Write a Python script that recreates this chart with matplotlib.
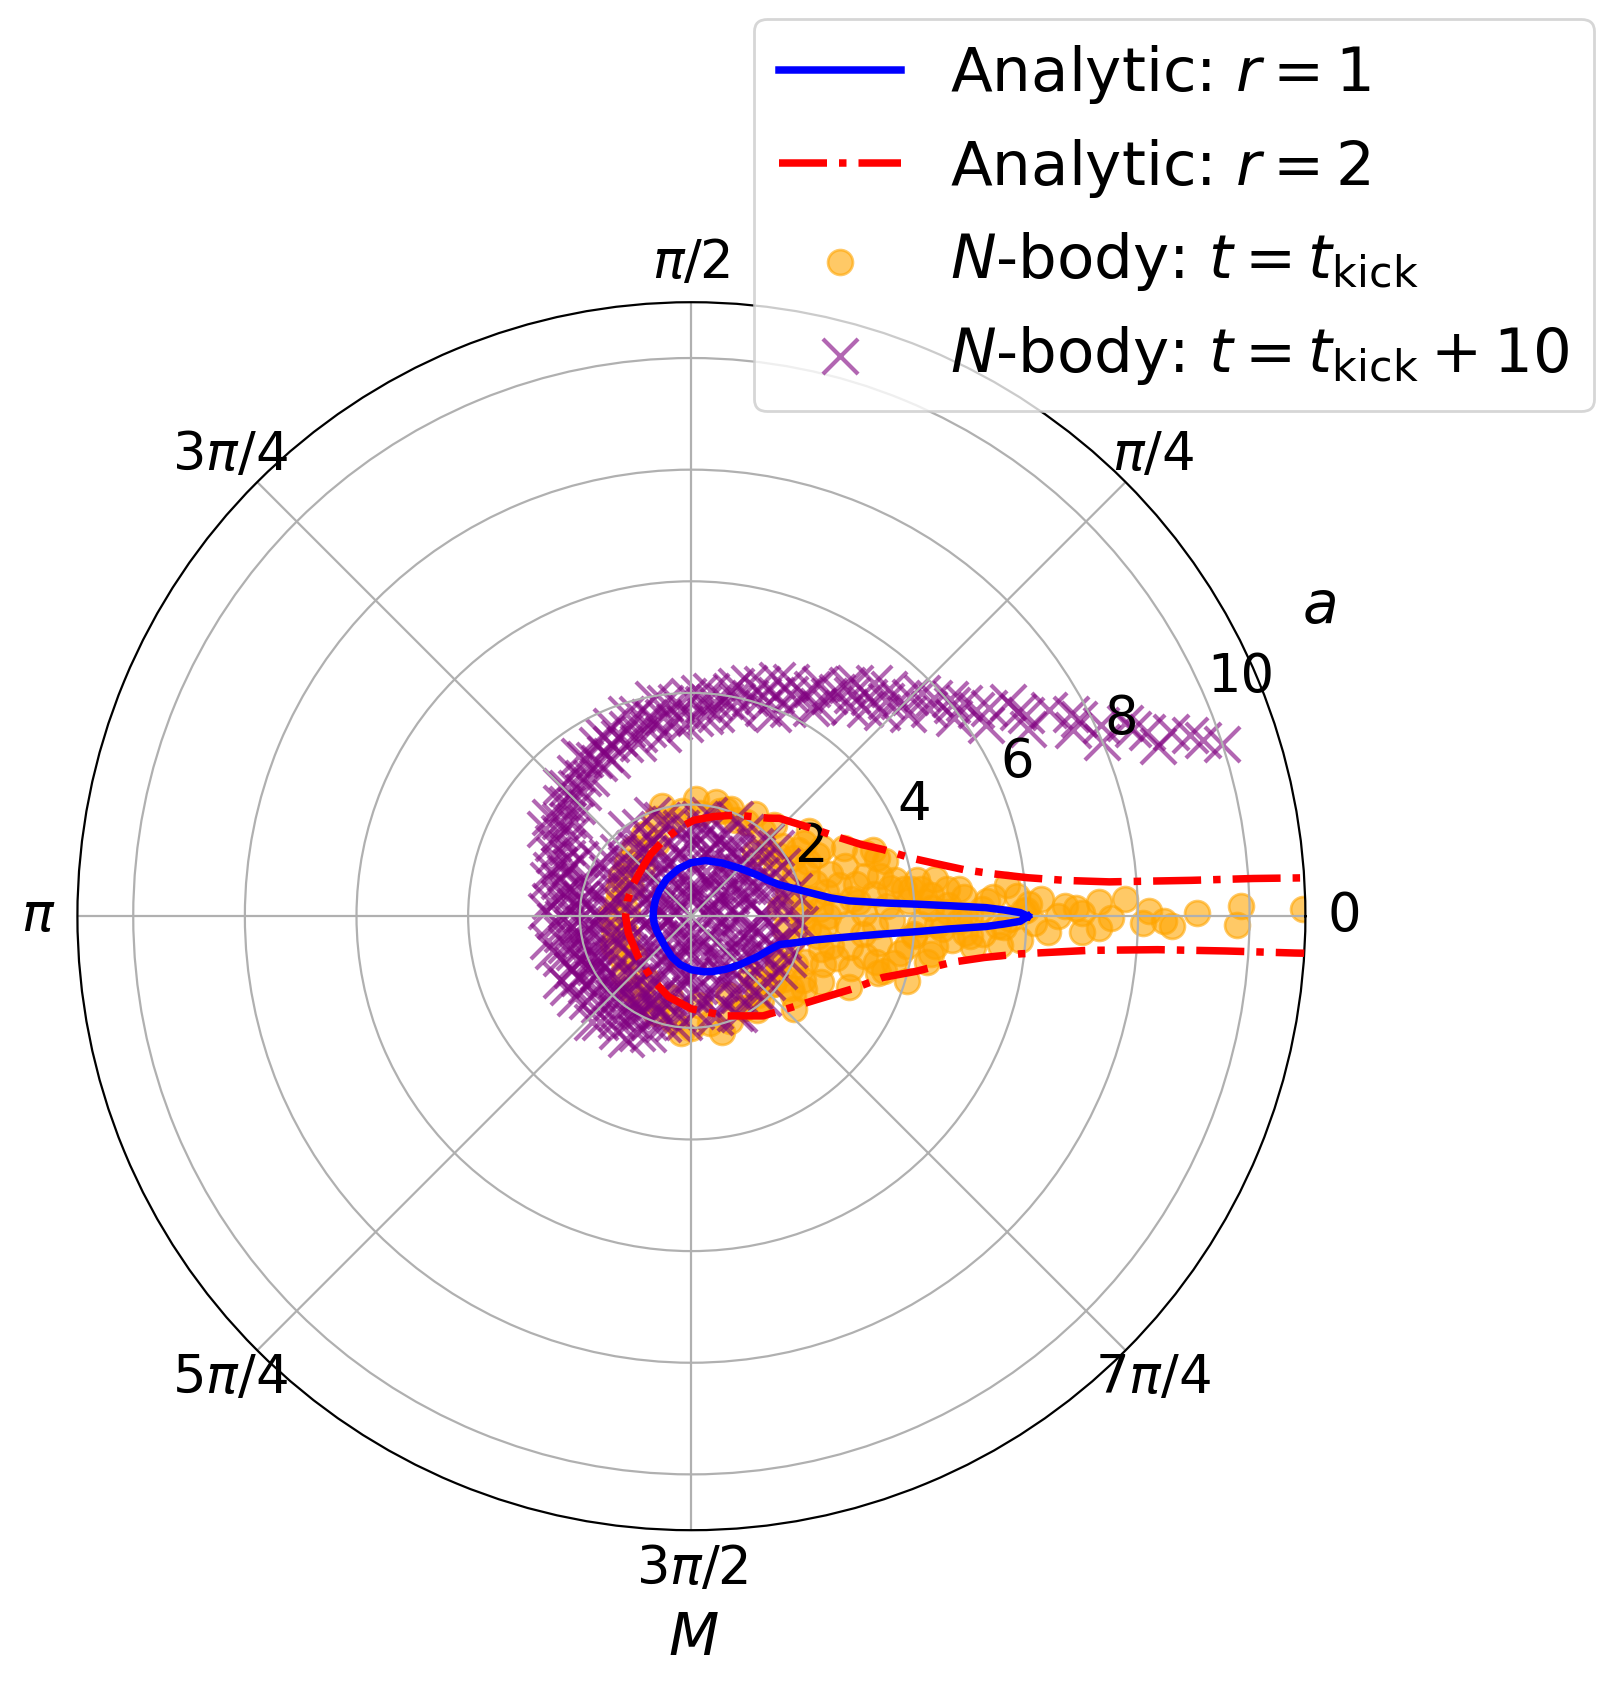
import numpy as np
import matplotlib
matplotlib.use("Agg")
import matplotlib.pyplot as plt

# ---------------- Analytic curves (M in radians, a) ----------------
# r = 1 : closed loop (upper half then lower half)
r1_M = [0.0, 0.011, 0.020, 0.029, 0.040, 0.053, 0.067, 0.097, 0.13, 0.178, 0.25, 0.34,
        0.45, 0.56, 0.78, 1.05, 1.32, 1.571, 1.836, 2.157, 2.45, 2.70, 2.95,
        3.1416, 3.3332, 3.5432, 3.8132, 4.0332, 4.2632, 4.4832, 4.7124, 4.9332, 5.0732,
        5.2832, 5.4832, 5.7232, 5.8832, 5.9732, 6.0332, 6.0932, 6.1532, 6.1882, 6.2152,
        6.2332, 6.2482, 6.2582, 6.2676, 6.2832]
r1_a = [6.03, 5.89, 5.60, 5.28, 4.65, 4.06, 3.51, 2.84, 2.52, 2.25, 1.95, 1.68,
        1.50, 1.39, 1.22, 1.10, 1.03, 0.96, 0.88, 0.80, 0.74, 0.71, 0.69,
        0.685, 0.68, 0.675, 0.685, 0.73, 0.81, 0.89, 0.96, 1.02, 1.06,
        1.13, 1.22, 1.38, 1.53, 1.66, 1.92, 2.25, 2.85, 3.40, 4.06,
        4.60, 5.28, 5.60, 5.89, 6.03]

# r = 2 : open curve (upper branch then lower branch)
r2_M = [0.058, 0.0625, 0.067, 0.0716, 0.082, 0.095, 0.114, 0.14, 0.167, 0.21, 0.259,
        0.334, 0.40, 0.489, 0.636, 0.838, 0.907, 1.156, 1.35, 1.547, 1.70, 1.95, 2.15,
        2.384, 2.65, 2.90,
        3.1416, 3.4032, 3.7932, 4.1332, 4.4362, 4.7124, 5.0452, 5.3362, 5.5402, 5.6972,
        5.8632, 5.9732, 6.0432, 6.1082, 6.1432, 6.1692, 6.1975, 6.2115, 6.2182, 6.2222,
        6.2262]
r2_a = [12.0, 11.0, 10.09, 8.98, 7.51, 6.75, 6.06, 5.45, 4.98, 4.50, 4.07,
        3.64, 3.30, 3.00, 2.66, 2.36, 2.23, 1.98, 1.83, 1.72, 1.60, 1.43, 1.33,
        1.23, 1.19, 1.18,
        1.18, 1.17, 1.20, 1.32, 1.50, 1.66, 1.89, 2.20, 2.42, 2.70,
        3.18, 3.60, 4.15, 4.74, 5.30, 5.93, 7.15, 8.37, 9.59, 10.82,
        12.0]

# ---------------- N-body at t = t_kick (M in degrees, a) ----------------
kick_M_deg = [
    # tail along M ~ 0
    0.64, 1.05, -0.9, 0.4, -1.22, -0.62, 0.64, -0.85, 2.27, -0.23, 1.93, -2.26, 0.5,
    1.58, 0.0, 2.8, -1.1, -4.2, 3.6, -5.4, 3.6, 5.6, -3.4, -3.6, 5.8, -6.2, -5.3,
    8.8, -8.9, 6.8, 7.1, 7.3, -16.7, -15.9, -12.9, 20.1, 17.4, 27.6, 36.1,
    1.2, -1.6, 0.9, -2.5, 2.0, -0.5, 1.5, -1.8, 0.3, 2.5, -2.0, 3.5, -4.5,
    # bulk
    2, 8, -6, 15, -14, 22, -22, 4, -3, 12, -11, 18, -18, 26, -27, 1, 7, -8, 13, -13,
    16, -1, 4, -5, 10, -10, 2, -3, 6, -7, 0, 3, -2, 1, -1, 9, -11, 5, -4, 10, 30, -30,
    35, -34, 20, -17, 24, -24,
    3, -2, 9, -9, 17, -16, 6, -6, 11, -12, 20, -20, 0, 3, -3, 8, -8, 12, -14, 5, -2,
    1, 4, -4, 25, -25, 32, -33, 38, -36,
    # near right
    40, -40, 50, -50, 28, -28, 45, -45, 60, -60, 15, -15, 5, -8, 48, -38, 33, -42,
    58, 70, 78,
    # ring on the left
    65, 75, 85, 95, 100, 110, 120, 130, 140, 150, 160, 170, 180, 190, 200, 210, 220,
    230, 240, 250, 260, 270, 280, 290, 300, 310, 320, 330, 115, 135, 155, 175, 195,
    215, 235, 255, 275, 295, 315, 105, 88, 72, 265, 285, 305]
kick_a = [
    10.95, 9.85, 9.78, 9.05, 8.62, 8.47, 8.19, 8.1, 7.77, 7.52, 7.3, 7.0, 7.0,
    6.69, 6.57, 6.27, 6.14, 5.9, 5.84, 5.55, 5.41, 5.68, 5.23, 4.92, 4.81, 5.07, 4.69,
    4.41, 4.35, 4.15, 3.96, 3.84, 4.04, 3.58, 3.72, 3.47, 3.48, 2.64, 2.6,
    6.9, 7.3, 5.95, 6.4, 6.05, 5.7, 5.2, 5.5, 4.9, 4.6, 4.4, 4.2, 4.0,
    2.0, 2.2, 2.1, 2.3, 2.4, 2.0, 2.2, 2.6, 2.8, 2.7, 2.9, 2.9, 3.0, 2.5, 2.6, 3.1, 3.3,
    3.4, 3.2, 3.2, 3.6, 3.6, 3.9, 4.0, 3.7, 3.8, 4.3, 4.5, 4.6, 4.4, 5.0, 5.3, 5.6,
    6.0, 4.8, 4.1, 4.3, 3.0, 2.4, 2.45, 2.1, 2.3, 1.9, 2.0, 3.3, 3.5, 3.0, 3.1,
    2.3, 2.0, 2.05, 2.3, 2.6, 2.7, 2.9, 3.1, 3.0, 2.55, 2.2, 2.5, 2.45, 3.5, 3.3, 3.6,
    3.9, 3.45, 3.4, 4.3, 4.1, 4.6, 4.9, 5.0, 2.3, 2.05, 2.25, 2.4, 2.05, 2.2,
    1.8, 1.9, 2.0, 1.95, 1.7, 1.75, 1.6, 1.65, 1.95, 1.9, 1.8, 1.85, 1.6, 1.7, 2.2,
    2.3, 2.4, 2.48, 2.15, 2.05, 2.1,
    1.9, 1.95, 1.85, 1.9, 1.75, 1.85, 1.7, 1.6, 1.5, 1.45, 1.4, 1.35, 1.45, 1.4, 1.5,
    1.45, 1.6, 1.7, 1.75, 1.85, 1.9, 2.0, 1.95, 2.0, 1.9, 1.85, 1.9, 1.8, 1.45, 1.25,
    1.2, 1.15, 1.2, 1.25, 1.4, 1.5, 1.6, 1.55, 1.5, 2.05, 2.1, 2.0, 2.1, 2.15, 2.05]

# ---------------- N-body at t = t_kick + 10 (M in degrees, a) ----------------
late_M_deg = [
    # central disc
    5, 12, 20, 27, 3, 16, 24, 9, 29,
    34, 41, 48, 55, 38, 52, 58, 45, 33,
    63, 70, 78, 85, 66, 74, 88, 81, 69,
    93, 100, 107, 114, 97, 118, 104, 111, 95,
    123, 130, 138, 145, 127, 134, 148, 141, 125,
    153, 160, 167, 174, 157, 171, 163, 178, 151,
    183, 190, 197, 204, 186, 200, 208, 193, 182,
    213, 220, 227, 234, 216, 230, 238, 224, 211,
    243, 250, 257, 264, 247, 260, 268, 253, 241,
    273, 280, 287, 294, 276, 290, 298, 284, 271,
    303, 310, 317, 324, 306, 320, 328, 313, 301,
    333, 340, 347, 354, 336, 350, 357, 343, 331,
    2, 8, 14, 19, 26, 22, 11, 28,
    31, 36, 43, 50, 57, 47, 39, 54,
    61, 67, 72, 80, 86, 77, 83, 64,
    91, 99, 103, 109, 116, 120, 96, 112,
    121, 128, 132, 139, 146, 150, 136, 143,
    152, 158, 162, 168, 176, 180, 165, 173,
    185, 188, 194, 199, 205, 210, 191, 202,
    214, 219, 223, 229, 236, 240, 218, 232,
    244, 249, 254, 259, 262, 269, 245, 266,
    272, 278, 283, 288, 293, 299, 281, 296,
    302, 308, 314, 319, 325, 330, 311, 327,
    334, 338, 345, 349, 352, 359, 341, 356,
    # spiral arm
    252, 248, 245, 243, 240, 237, 235, 232, 229, 226, 224, 221, 218, 215, 212, 209,
    206, 203, 201,
    198, 195, 193, 190, 187, 185, 182, 179, 177, 174, 171, 169, 166, 163, 161,
    158, 156, 153, 151, 149, 146, 144, 141, 139, 136, 134, 131, 129, 126, 124, 121,
    119, 117, 115, 113, 111, 109, 107, 105, 103, 101, 99, 97, 95, 93, 91,
    89, 87, 85, 83, 81, 79, 77, 75, 73, 71, 69, 67, 65, 63, 61,
    59, 57, 55, 53, 51, 49, 47, 46, 44, 43, 41, 40,
    38, 37, 35, 34, 33, 31, 30, 29, 28, 26, 25, 24, 23, 22, 21, 20, 19, 18,
    255, 250, 246, 242, 238, 234, 230, 227, 223, 219, 216, 213, 210, 207, 204, 200,
    197, 194, 191, 188, 184, 181, 178, 175, 172, 168, 165, 162,
    159, 155, 152, 148, 145, 142, 138, 135, 132, 128, 125, 122,
    118, 116, 112, 108, 106, 102, 100, 98, 94, 92,
    88, 86, 84, 80, 78, 76, 72, 70, 68, 66, 62, 60,
    58, 56, 54, 52, 50, 48, 45, 42,
    39, 36, 32, 27, 23, 20]
late_a = [
    0.45, 1.1, 1.6, 0.8, 1.75, 0.35, 1.3, 1.45, 1.85,
    0.6, 1.2, 1.7, 0.95, 1.5, 0.4, 1.35, 1.9, 1.0,
    0.7, 1.45, 1.15, 1.75, 1.9, 0.5, 0.9, 1.5, 1.2,
    1.3, 0.65, 1.8, 1.05, 1.6, 1.5, 0.4, 1.95, 0.95,
    0.8, 1.6, 1.2, 1.85, 1.95, 0.55, 1.0, 1.5, 1.35,
    1.7, 0.9, 1.4, 1.9, 1.2, 0.6, 1.95, 1.3, 0.45,
    1.6, 1.1, 1.85, 0.7, 0.4, 1.4, 1.95, 1.3, 1.0,
    1.5, 0.85, 1.9, 1.2, 1.05, 0.5, 1.7, 1.45, 1.95,
    1.0, 1.8, 1.3, 0.6, 1.55, 1.95, 1.15, 0.75, 1.4,
    1.7, 0.9, 1.45, 1.9, 1.25, 0.55, 1.2, 1.75, 0.4,
    1.35, 1.75, 0.8, 1.5, 1.0, 1.2, 1.85, 0.45, 1.65,
    0.95, 1.55, 1.25, 1.8, 1.9, 0.7, 1.35, 1.05, 1.6,
    1.25, 0.7, 1.9, 1.0, 1.55, 0.3, 1.65, 1.15,
    1.45, 0.85, 1.6, 1.15, 1.8, 0.65, 1.95, 1.4,
    1.05, 1.6, 0.85, 1.85, 1.3, 0.35, 1.6, 1.4,
    1.55, 1.15, 1.7, 0.8, 1.3, 1.85, 0.35, 1.6,
    1.1, 1.45, 0.95, 1.75, 1.35, 1.9, 0.4, 0.8,
    1.25, 1.55, 0.7, 1.8, 1.05, 1.6, 0.35, 1.5,
    1.85, 0.8, 1.5, 1.1, 1.65, 1.3, 0.45, 1.9,
    0.7, 1.75, 1.25, 1.55, 0.95, 1.9, 0.35, 1.3,
    1.65, 0.9, 1.5, 1.05, 1.75, 1.4, 0.45, 1.9,
    1.05, 1.5, 1.85, 0.75, 1.3, 1.6, 0.3, 1.95,
    0.9, 1.5, 1.15, 1.8, 0.65, 1.4, 1.95, 1.05,
    1.3, 0.5, 1.7, 1.1, 1.5, 0.85, 1.85, 1.95,
    1.8, 2.05, 2.3, 1.9, 2.15, 2.45, 1.85, 2.2, 2.5, 2.0, 2.3, 1.75, 2.15, 2.55, 2.0,
    2.3, 2.6, 1.85, 2.2,
    2.45, 2.0, 2.3, 2.6, 1.85, 2.15, 2.45, 1.9, 2.25, 2.55, 2.0, 2.3, 2.65, 2.1, 2.4,
    2.35, 2.7, 2.25, 2.55, 3.05, 2.6, 2.9, 2.7, 3.1, 2.85, 3.2, 2.95, 3.3, 3.05, 3.4,
    3.2,
    3.5, 3.15, 3.4, 3.7, 3.3, 3.55, 3.25, 3.75, 3.45, 3.6, 3.3, 3.85, 3.5, 3.7, 3.95,
    3.55, 3.8, 4.05, 3.65, 3.9, 4.2, 3.75, 4.05, 4.35, 3.95, 4.25, 4.55, 4.1, 4.45,
    4.75,
    4.4, 4.8, 5.1, 4.7, 5.05, 5.4, 5.0, 5.35, 5.75, 5.3, 5.65, 6.05,
    6.2, 5.9, 6.5, 6.85, 6.3, 7.0, 7.4, 6.9, 7.7, 7.6, 8.1, 8.5, 8.0, 8.8, 9.2, 8.9,
    9.7, 10.0,
    2.0, 2.25, 1.7, 2.5, 2.0, 2.3, 1.8, 2.6, 2.05, 2.4, 1.85, 2.25, 2.55, 2.05, 2.35,
    2.0,
    2.2, 2.55, 2.05, 2.35, 1.95, 2.3, 2.6, 2.1, 2.4, 2.15, 2.45, 2.65,
    2.55, 2.45, 2.8, 2.8, 3.1, 2.8, 3.0, 3.3, 3.1, 3.15, 3.5, 3.3,
    3.3, 3.6, 3.45, 3.8, 3.4, 3.65, 3.95, 3.6, 3.85, 3.45,
    4.0, 3.6, 3.85, 4.1, 3.95, 4.3, 4.15, 4.5, 3.9, 4.35, 4.6, 4.3,
    4.65, 5.0, 4.9, 5.3, 4.85, 5.2, 5.55, 5.85,
    6.0, 6.3, 6.9, 7.8, 8.6, 9.5]

theta_ticks = [0, 1, 2, 3, 4, 5, 6, 7]
theta_labels = ['0', r'$\pi/4$', r'$\pi/2$', r'$3\pi/4$', r'$\pi$', r'$5\pi/4$',
                r'$3\pi/2$', r'$7\pi/4$']
r_ticks = [2, 4, 6, 8, 10]

fig = plt.figure(figsize=(1613 / 200, 1694 / 200), dpi=200)
ax = fig.add_axes([0.0480, 0.0967, 0.7613, 0.7249], projection='polar')

sc1 = ax.scatter(np.deg2rad(kick_M_deg), kick_a, s=80, color='orange', alpha=0.6,
                 label=r'$N$-body: $t=t_{\mathrm{kick}}$', zorder=1)
sc2 = ax.scatter(np.deg2rad(late_M_deg), late_a, s=160, marker='x', color='purple',
                 alpha=0.6, linewidths=1.5,
                 label=r'$N$-body: $t=t_{\mathrm{kick}}+10$', zorder=1.1)
l1, = ax.plot(r1_M, r1_a, color='blue', lw=2.7, label=r'Analytic: $r=1$', zorder=3)
l2, = ax.plot(r2_M, r2_a, color='red', lw=2.7, ls='-.', label=r'Analytic: $r=2$',
              zorder=3)

ax.set_ylim(0, 11)
ax.set_yticks(r_ticks)
ax.set_yticklabels([str(t) for t in r_ticks])
ax.set_xticks(np.array(theta_ticks) * np.pi / 4)
ax.set_xticklabels(theta_labels)
ax.tick_params(axis='both', labelsize=19)

fig.text(0.8179, 0.6417, r'$a$', fontsize=21, ha='center', va='center')
fig.text(0.430, 0.033, r'$M$', fontsize=21, ha='center', va='center')

fig.legend(handles=[l1, l2, sc1, sc2], loc='upper right',
           bbox_to_anchor=(0.988, 0.989), fontsize=22, borderaxespad=0)

fig.savefig('out.png', dpi=200)
